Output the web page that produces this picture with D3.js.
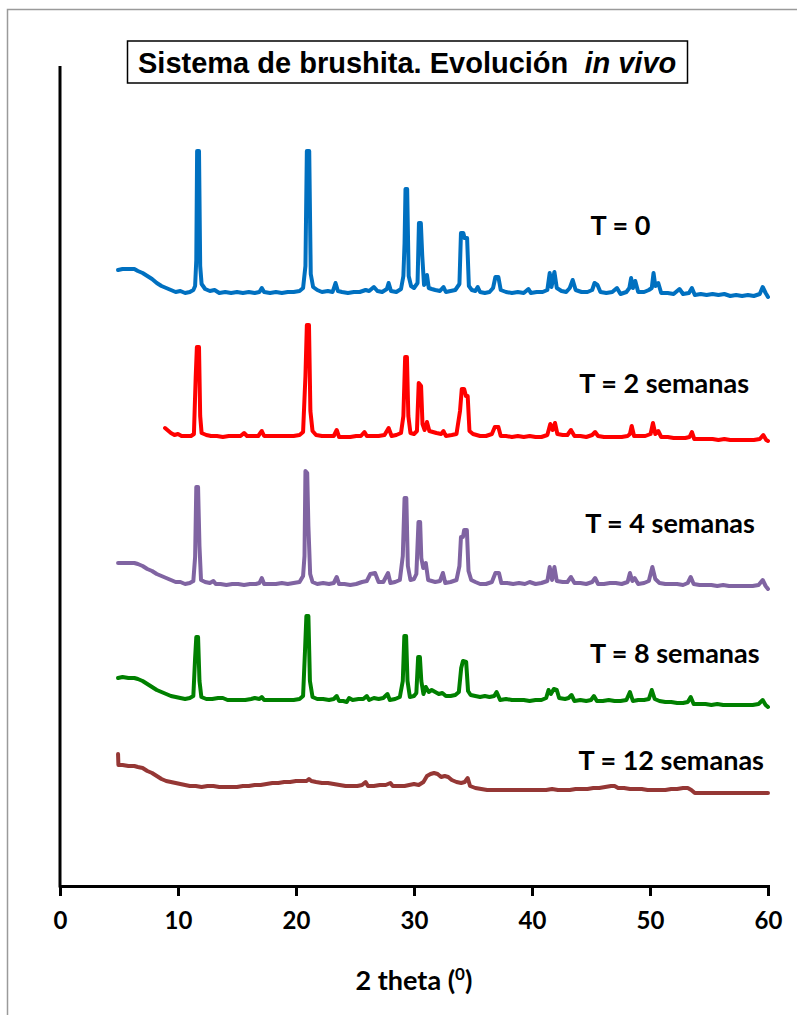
<!DOCTYPE html>
<html>
<head>
<meta charset="utf-8">
<script src="https://cdn.jsdelivr.net/npm/d3@7"></script>
<style>
  body { margin: 0; background: #fff; }
  svg { display: block; }
</style>
</head>
<body>
<div id="chart"></div>
<script>
// 2 theta (deg) vs intensity (a.u., series already stacked)
const xTicks = [0, 10, 20, 30, 40, 50, 60];
const seriesNames = ["T = 0", "T = 2 semanas", "T = 4 semanas", "T = 8 semanas", "T = 12 semanas"];
const seriesColors = ["#0070C0", "#FF0000", "#8064A2", "#008000", "#953735"];

const t0 = [[4.92,616],[5.3,617],[5.8,617],[6.3,617],[6.6,615],[7.0,613],[7.4,610],[7.8,607],[8.2,603],[8.6,600],[9.0,598],
  [9.4,596],[9.8,594],[10.2,595],[10.6,593],[11.0,594],[11.3,596],[11.45,600],[11.55,626],[11.62,735],[11.78,735],[11.88,620],
  [12.0,602],[12.3,597],[12.7,595],[13.1,596],[13.5,593],[14.0,594],[14.5,593],[15.0,594],[15.5,593],[16.0,594],[16.5,593],
  [16.9,594],[17.1,598],[17.3,594],[17.8,593],[18.3,594],[18.8,593],[19.3,594],[19.8,594],[20.3,595],[20.6,598],[20.8,620],
  [20.92,735],[21.12,735],[21.25,612],[21.45,599],[21.8,596],[22.2,594],[22.7,595],[23.1,594],[23.35,603],[23.55,595],
  [23.9,594],[24.4,593],[24.9,594],[25.4,594],[25.9,596],[26.2,595],[26.6,599],[26.9,595],[27.3,594],[27.7,597],[27.85,603],
  [28.05,595],[28.5,594],[28.9,597],[29.1,610],[29.2,643],[29.28,697],[29.42,697],[29.55,610],[29.75,600],[30.0,598],
  [30.3,603],[30.42,663],[30.58,663],[30.7,630],[30.85,601],[31.0,603],[31.1,611],[31.25,598],[31.5,597],[31.8,596],
  [32.2,595],[32.5,599],[32.7,594],[33.1,595],[33.5,596],[33.85,602],[33.98,653],[34.18,653],[34.28,648],[34.5,648],
  [34.65,600],[34.9,596],[35.2,595],[35.4,599],[35.6,594],[36.0,593],[36.4,594],[36.7,598],[36.9,609],[37.15,609],
  [37.35,596],[37.8,594],[38.3,593],[38.8,594],[39.3,593],[39.7,597],[39.9,593],[40.4,594],[40.9,594],[41.3,596],[41.5,613],
  [41.65,599],[41.9,614],[42.1,598],[42.5,595],[42.9,594],[43.2,598],[43.45,606],[43.7,596],[44.2,594],[44.7,594],[45.1,596],
  [45.3,603],[45.55,601],[45.8,594],[46.3,593],[46.8,594],[47.2,598],[47.5,592],[48.0,594],[48.25,598],[48.4,608],[48.55,598],
  [48.75,605],[49.0,594],[49.5,594],[49.9,596],[50.15,598],[50.3,613],[50.45,600],[50.7,603],[50.95,593],[51.5,593],[52.0,592],
  [52.5,597],[52.8,592],[53.3,593],[53.55,598],[53.8,591],[54.3,592],[54.8,591],[55.3,592],[55.8,591],[56.3,592],[56.8,590],
  [57.3,591],[57.8,590],[58.3,591],[58.8,590],[59.3,592],[59.55,599],[59.8,593],[60.0,589]];

const t2 = [[8.9,458],[9.1,456],[9.4,453],[9.7,451],[10.0,452],[10.3,450],[10.7,450],[11.1,450],[11.35,452],[11.5,509],
  [11.6,539],[11.78,539],[11.88,470],[12.0,453],[12.4,451],[12.8,450],[13.3,450],[13.8,449],[14.3,450],[14.8,450],[15.3,450],
  [15.6,453],[15.85,450],[16.3,450],[16.8,450],[17.1,455],[17.3,450],[17.8,450],[18.3,450],[18.8,450],[19.3,450],[19.8,450],
  [20.3,451],[20.6,454],[20.8,510],[20.92,561],[21.1,561],[21.22,475],[21.4,455],[21.7,451],[22.2,450],[22.7,450],[23.2,450],
  [23.45,456],[23.65,449],[24.1,449],[24.6,449],[25.1,450],[25.5,450],[25.8,454],[26.0,450],[26.5,450],[27.0,450],[27.5,451],
  [27.85,458],[28.1,450],[28.5,451],[28.9,453],[29.1,470],[29.25,529],[29.4,529],[29.52,470],[29.7,453],[30.0,452],
  [30.25,455],[30.4,503],[30.6,500],[30.72,462],[30.9,456],[31.1,464],[31.3,455],[31.6,454],[31.9,453],[32.3,452],[32.5,455],
  [32.7,450],[33.2,451],[33.6,452],[33.9,475],[34.05,497],[34.25,497],[34.4,490],[34.55,490],[34.7,455],[35.0,452],[35.3,451],
  [35.6,450],[36.1,450],[36.6,452],[36.85,459],[37.15,459],[37.35,450],[37.8,450],[38.3,449],[38.8,450],[39.3,449],[39.8,450],
  [40.3,449],[40.8,449],[41.3,451],[41.55,462],[41.75,456],[41.95,463],[42.15,452],[42.6,451],[43.0,451],[43.3,456],[43.6,450],
  [44.1,450],[44.6,449],[45.1,451],[45.35,454],[45.6,450],[46.1,449],[46.6,449],[47.1,449],[47.6,449],[48.1,450],[48.3,452],
  [48.45,460],[48.65,450],[49.1,450],[49.6,450],[50.05,452],[50.25,463],[50.45,452],[50.7,455],[50.95,449],[51.5,449],
  [52.0,448],[52.5,448],[53.0,448],[53.35,449],[53.55,454],[53.75,447],[54.3,447],[54.8,447],[55.3,447],[55.8,446],[56.3,447],
  [56.8,446],[57.3,446],[57.8,446],[58.3,446],[58.8,446],[59.3,447],[59.6,451],[59.85,446],[60,445]];

const t4 = [[4.92,323],[5.3,323],[5.8,323],[6.3,323],[6.6,322],[7.0,320],[7.4,317],[7.8,315],[8.2,312],[8.6,310],[9.0,308],
  [9.4,306],[9.8,304],[10.2,304],[10.6,302],[11.0,303],[11.3,305],[11.45,329],[11.55,399],[11.7,399],[11.82,340],[11.95,306],
  [12.3,304],[12.7,303],[13.0,305],[13.2,302],[13.6,302],[14.1,301],[14.6,302],[15.1,302],[15.6,301],[16.1,302],[16.6,302],
  [16.9,303],[17.1,308],[17.3,302],[17.8,302],[18.3,302],[18.8,303],[19.3,302],[19.8,303],[20.3,304],[20.6,310],[20.72,330],
  [20.8,415],[20.95,413],[21.05,360],[21.2,312],[21.4,304],[21.8,302],[22.3,303],[22.8,302],[23.2,303],[23.45,309],[23.65,302],
  [24.1,302],[24.6,301],[25.1,302],[25.6,304],[26.0,305],[26.3,312],[26.7,313],[27.0,304],[27.4,304],[27.8,313],[28.0,303],
  [28.4,304],[28.8,306],[29.05,330],[29.2,388],[29.35,388],[29.48,320],[29.7,306],[30.0,307],[30.2,312],[30.38,364],
  [30.52,364],[30.62,328],[30.78,318],[31.0,323],[31.2,306],[31.5,305],[31.8,304],[32.2,305],[32.45,313],[32.65,303],
  [33.1,304],[33.6,306],[33.85,320],[33.98,349],[34.15,349],[34.25,356],[34.48,356],[34.62,315],[34.85,306],[35.2,304],
  [35.6,302],[36.1,302],[36.6,304],[36.9,313],[37.2,313],[37.4,303],[37.9,303],[38.4,302],[38.9,303],[39.4,302],[39.8,304],
  [40.3,302],[40.8,303],[41.3,305],[41.5,319],[41.7,306],[41.9,319],[42.1,305],[42.6,304],[43.0,304],[43.3,309],[43.6,303],
  [44.1,303],[44.6,302],[45.1,304],[45.35,308],[45.6,302],[46.1,302],[46.6,303],[47.1,303],[47.6,302],[48.1,304],[48.3,313],
  [48.5,305],[48.7,308],[49.0,302],[49.5,303],[49.9,305],[50.2,319],[50.45,307],[50.8,303],[51.3,302],[51.8,302],[52.3,302],
  [52.8,301],[53.2,303],[53.45,309],[53.7,302],[54.2,301],[54.7,301],[55.2,301],[55.7,300],[56.2,301],[56.7,300],[57.2,300],
  [57.7,300],[58.2,300],[58.7,300],[59.2,301],[59.55,306],[59.8,300],[60,297]];

const t8 = [[4.92,208],[5.3,209],[5.8,208],[6.3,208],[6.6,207],[7.0,205],[7.4,202],[7.8,199],[8.2,196],[8.6,194],[9.0,192],
  [9.4,190],[9.8,189],[10.2,188],[10.6,187],[11.0,188],[11.3,190],[11.45,228],[11.55,249],[11.7,249],[11.82,205],[11.98,189],
  [12.4,187],[12.9,187],[13.4,188],[13.8,188],[14.2,186],[14.7,186],[15.2,186],[15.7,186],[16.2,187],[16.5,188],[16.9,187],
  [17.1,189],[17.3,186],[17.8,186],[18.3,186],[18.8,186],[19.3,186],[19.8,186],[20.3,187],[20.6,190],[20.78,240],[20.88,270],
  [21.05,270],[21.18,205],[21.4,189],[21.8,187],[22.3,187],[22.8,186],[23.2,187],[23.45,190],[23.65,185],[24.0,185],
  [24.3,184],[24.5,188],[24.8,186],[25.3,187],[25.7,187],[26.0,190],[26.2,186],[26.6,188],[27.0,187],[27.4,188],[27.75,192],
  [27.95,186],[28.4,187],[28.8,189],[29.05,205],[29.18,250],[29.33,250],[29.45,205],[29.65,189],[30.0,190],[30.2,193],
  [30.35,229],[30.5,229],[30.62,205],[30.8,192],[31.0,199],[31.25,194],[31.5,196],[31.8,194],[32.1,192],[32.4,193],[32.7,190],
  [33.1,190],[33.5,191],[33.8,194],[34.0,218],[34.15,225],[34.42,224],[34.58,195],[34.8,191],[35.2,190],[35.6,189],[36.0,190],
  [36.4,189],[36.8,190],[37.0,194],[37.3,186],[37.8,187],[38.3,186],[38.8,186],[39.3,186],[39.8,185],[40.3,186],[40.8,186],
  [41.2,188],[41.4,196],[41.6,192],[41.85,197],[42.1,196],[42.3,188],[42.8,187],[43.1,188],[43.35,191],[43.6,185],[44.1,186],
  [44.6,185],[45.0,186],[45.25,190],[45.5,185],[46.0,185],[46.5,186],[47.0,185],[47.5,185],[48.0,186],[48.3,194],[48.55,185],
  [49.0,186],[49.5,186],[49.9,187],[50.15,196],[50.4,187],[50.8,185],[51.3,184],[51.8,184],[52.3,183],[52.8,183],[53.2,184],
  [53.45,189],[53.7,182],[54.2,182],[54.7,182],[55.2,181],[55.7,182],[56.2,181],[56.7,181],[57.2,181],[57.7,181],[58.2,181],
  [58.7,181],[59.2,182],[59.55,186],[59.8,181],[60,179]];

const t12 = [[4.92,132],[4.95,121],[5.3,121],[5.8,120],[6.3,120],[6.6,119],[7.0,118],[7.4,115],[7.8,113],[8.2,110],[8.6,107],
  [9.0,105],[9.4,104],[9.8,103],[10.2,102],[10.6,101],[11.0,100],[11.5,100],[12.0,99],[12.5,100],[13.0,100],[13.5,99],
  [14.0,99],[14.5,99],[15.0,99],[15.5,100],[16.0,100],[16.5,101],[17.0,101],[17.5,102],[18.0,103],[18.5,103],[19.0,104],
  [19.5,104],[20.0,105],[20.5,105],[20.9,105],[21.1,107],[21.3,105],[21.7,104],[22.2,103],[22.7,103],[23.2,102],[23.7,101],
  [24.2,100],[24.7,100],[25.2,100],[25.6,101],[25.9,104],[26.1,100],[26.6,100],[27.1,101],[27.6,101],[28.0,103],[28.2,100],
  [28.7,100],[29.2,100],[29.6,101],[30.0,102],[30.4,101],[30.8,104],[31.1,110],[31.4,112],[31.7,113],[32.0,112],[32.3,109],
  [32.6,110],[32.9,109],[33.2,106],[33.6,104],[34.0,103],[34.3,104],[34.55,108],[34.75,100],[35.2,98],[35.7,97],[36.2,96],
  [36.7,96],[37.2,96],[37.7,96],[38.2,96],[38.7,96],[39.2,96],[39.7,96],[40.2,96],[40.7,96],[41.2,96],[41.7,97],[42.2,96],
  [42.7,96],[43.2,96],[43.7,97],[44.2,97],[44.7,97],[45.2,98],[45.7,98],[46.2,99],[46.7,100],[47.0,100],[47.3,98],[47.8,98],
  [48.3,97],[48.8,97],[49.3,97],[49.8,96],[50.3,96],[50.8,96],[51.3,96],[51.8,97],[52.3,97],[52.8,98],[53.2,98],[53.5,96],
  [53.8,93],[54.3,93],[54.8,93],[55.3,93],[55.8,93],[56.3,93],[56.8,93],[57.3,93],[57.8,93],[58.3,93],[58.8,93],[59.3,93],
  [60,93]];

const allSeries = [t0, t2, t4, t8, t12];

// label anchors in data units (2theta, intensity)
const labelAt = [[47.5, 651], [51.2, 493], [51.7, 353], [52.1, 223], [51.8, 116]];

const W = 797, H = 1015;
const margin = {left: 60, right: 29, top: 66, bottom: 128};

const svg = d3.select("#chart").append("svg")
  .attr("width", W)
  .attr("height", H);

svg.append("rect")
  .attr("width", W).attr("height", H)
  .attr("fill", "#fff");

// outer chart area border
svg.append("rect")
  .attr("x", 7.5).attr("y", 9.5)
  .attr("width", W).attr("height", H)
  .attr("fill", "none")
  .attr("stroke", "#9a9a9a")
  .attr("stroke-width", 1.5);

const x = d3.scaleLinear().domain([0, 60]).range([margin.left, W - margin.right]);
const y = d3.scaleLinear().domain([0, 820]).range([H - margin.bottom - 1, margin.top]);

const line = d3.line()
  .x(d => x(d[0]))
  .y(d => y(d[1]));

allSeries.forEach(function(s, i) {
  svg.append("path")
    .datum(s)
    .attr("d", line)
    .attr("fill", "none")
    .attr("stroke", seriesColors[i])
    .attr("stroke-width", 4)
    .attr("stroke-linejoin", "round")
    .attr("stroke-linecap", "round");
});

// axes
const xAxis = svg.append("g")
  .attr("transform", "translate(0," + y(0) + ")")
  .call(d3.axisBottom(x).tickValues(xTicks).tickSize(10).tickPadding(16));
xAxis.select(".domain").attr("stroke", "#000").attr("stroke-width", 3);
xAxis.selectAll(".tick line").attr("stroke", "#000").attr("stroke-width", 3);
xAxis.selectAll(".tick text")
  .attr("fill", "#000")
  .style("font-family", "Lato, 'Open Sans', sans-serif")
  .style("font-weight", "bold")
  .style("font-size", "24px");

svg.append("line")
  .attr("x1", x(0)).attr("x2", x(0))
  .attr("y1", y(820)).attr("y2", y(0) + 1.5)
  .attr("stroke", "#000")
  .attr("stroke-width", 3);

// x axis title
const xt = svg.append("text")
  .attr("x", (x(0) + x(60)) / 2)
  .attr("y", 990)
  .attr("text-anchor", "middle")
  .style("font-family", "Lato, 'Open Sans', sans-serif")
  .style("font-weight", "bold")
  .style("font-size", "27px")
  .text("2 theta (");
xt.append("tspan").attr("dy", -10).style("font-size", "17px").text("0");
xt.append("tspan").attr("dy", 10).text(")");

// series labels
labelAt.forEach(function(p, i) {
  svg.append("text")
    .attr("x", x(p[0]))
    .attr("y", y(p[1]))
    .attr("text-anchor", "middle")
    .style("font-family", "Lato, 'Open Sans', sans-serif")
    .style("font-weight", "bold")
    .style("font-size", "27px")
    .attr("fill", "#000")
    .text(seriesNames[i]);
});

// title box
svg.append("rect")
  .attr("x", 127.5).attr("y", 41)
  .attr("width", 560).attr("height", 42)
  .attr("fill", "#fff")
  .attr("stroke", "#000")
  .attr("stroke-width", 1.5);

const title = svg.append("text")
  .attr("x", 138)
  .attr("y", 73)
  .style("font-family", "'Liberation Sans', Arial, sans-serif")
  .style("font-weight", "bold")
  .style("font-size", "29px")
  .attr("fill", "#000")
  .attr("xml:space", "preserve");
title.append("tspan").text("Sistema de brushita. Evolución  ");
title.append("tspan").style("font-style", "italic").text("in vivo");
</script>
</body>
</html>
